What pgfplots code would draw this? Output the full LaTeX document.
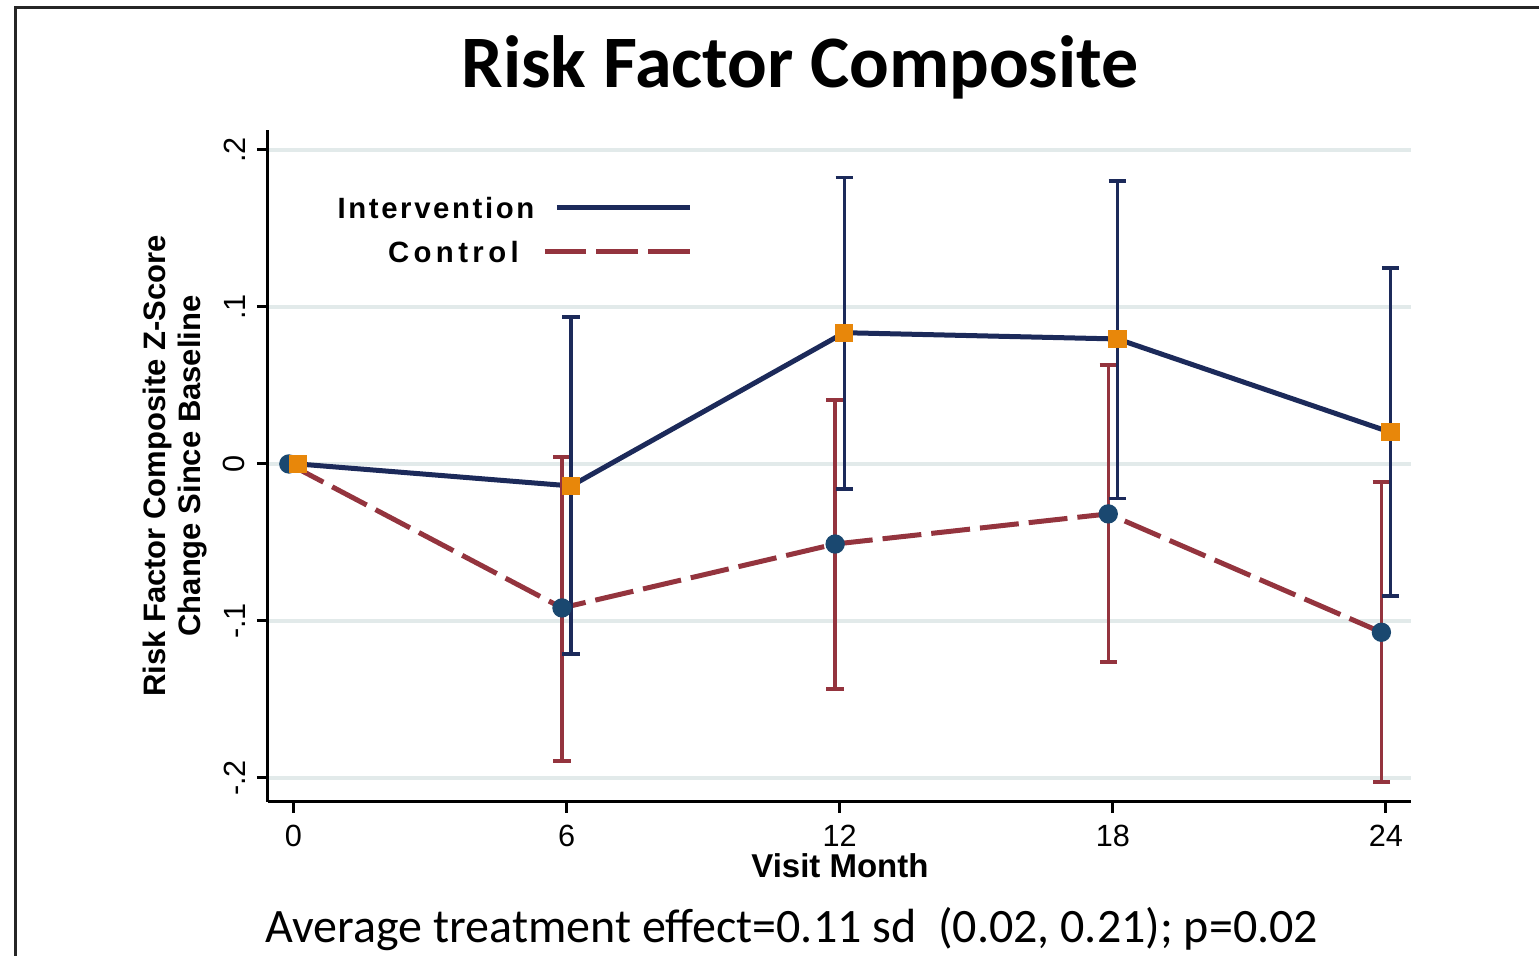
\documentclass[border=0pt]{standalone}
\usepackage{fontspec}
\setmainfont{Liberation Sans}
\newfontfamily\calibri{Carlito}
\newfontfamily\legfont[LetterSpace=9]{Liberation Sans}
\newfontfamily\legfontb[LetterSpace=15]{Liberation Sans}
\usepackage{pgfplots}
\pgfplotsset{compat=1.18}
\usepackage{pgfplotstable}

\definecolor{navyline}{RGB}{28,42,90}
\definecolor{redline}{RGB}{148,52,62}
\definecolor{orangem}{RGB}{232,135,10}
\definecolor{navydot}{RGB}{26,72,112}
\definecolor{gridc}{RGB}{226,234,234}

\pgfplotstableread{
x y ep em
0.1 0 0 0
6.1 -0.0140 0.1074 0.1070
12.1 0.0836 0.0988 0.0995
18.1 0.0796 0.1007 0.1017
24.1 0.0202 0.1046 0.1043
}\intv

\pgfplotstableread{
x y ep em
-0.1 0 0 0
5.9 -0.0917 0.0960 0.0973
11.9 -0.0510 0.0918 0.0923
17.9 -0.0318 0.0949 0.0945
23.9 -0.1072 0.0959 0.0955
}\ctrl

\begin{document}
\begin{tikzpicture}
\useasboundingbox (0,0) rectangle (461.7pt,286.8pt);
\draw[line width=0.9pt, black!85] (4.5pt,-5pt) -- (4.5pt,284.4pt) -- (470pt,284.4pt);
\node[anchor=base, inner sep=0pt, font=\calibri\bfseries\fontsize{22.2}{26}\selectfont] at (240pt,260.4pt) {Risk Factor Composite};
\node[anchor=base west, inner sep=0pt, font=\calibri\fontsize{14.4}{17}\selectfont] at (79.5pt,3.9pt) {Average treatment effect=0.11 sd\ \ (0.02, 0.21); p=0.02};

\begin{axis}[
  at={(80.4pt,46.2pt)}, anchor=south west,
  scale only axis, width=342.9pt, height=201.6pt,
  xmin=-0.558, xmax=24.55, ymin=-0.2153, ymax=0.2127,
  axis x line*=bottom, axis y line*=left,
  xtick pos=bottom, ytick pos=left,
  axis line style={line width=0.9pt, black},
  tick style={line width=0.9pt, black},
  major tick length=3.3pt, tick align=outside,
  xtick={0,6,12,18,24}, xticklabels={0,6,12,18,24},
  ytick={-0.2,-0.1,0,0.1,0.2}, yticklabels={-.2,-.1,0,.1,.2},
  /pgf/number format/assume math mode=true,
  ticklabel style={font=\fontsize{9.2}{11}\selectfont},
  yticklabel style={rotate=90, anchor=south},
  ymajorgrids, major grid style={gridc, line width=1.2pt},
  xlabel={Visit Month},
  ylabel={Risk Factor Composite Z-Score\\Change Since Baseline},
  every axis x label/.style={at={(axis description cs:0.5004,-0.1131)}, anchor=base, font=\bfseries\fontsize{9.9}{11}\selectfont},
  every axis y label/.style={at={(axis description cs:-0.0809,0.5)}, rotate=90, anchor=center, align=center, font=\bfseries\fontsize{9.3}{10.5}\selectfont},
  legend plot pos=right, reverse legend,
  legend style={draw=none, fill=none, inner sep=0pt, column sep=3.6pt, row sep=6.7pt,
    font=\bfseries\fontsize{8.8}{10}\selectfont,
    cells={anchor=east},
    nodes={inner sep=0pt, text height=6.5pt, text depth=0pt},
    at={(axis cs:8.78,0.1706)}, anchor=north east},
]
% control line
\addplot[redline, line width=1.5pt, dash pattern=on 11.7pt off 3pt, mark=none,
  legend image code/.code={\draw[redline, line width=1.4pt, dash pattern=on 12.5pt off 3pt] (-3.6pt,0pt) -- (40pt,0pt);}]
  table[x=x,y=y] {\ctrl};
\addlegendentry{\legfontb Control\hspace*{3.5pt}}
% markers
\addplot[forget plot, only marks, mark=*, color=navydot, mark size=2.7pt, mark options={solid}] table[x=x,y=y] {\ctrl};
\addplot[forget plot, only marks, mark=square*, color=orangem, mark size=2.55pt, mark options={solid}] table[x=x,y=y] {\intv};
% intervention line
\addplot[navyline, line width=1.5pt, mark=none,
  legend image code/.code={\draw[navyline, line width=1.4pt] (0pt,0pt) -- (40pt,0pt);}]
  table[x=x,y=y] {\intv};
\addlegendentry{\legfont Intervention\hspace*{-1.2pt}}
% error bars
\addplot[forget plot, draw=none, mark=none, skip coords between index={0}{1},
  error bars/.cd, y dir=both, y explicit,
  error bar style={draw=redline, line width=1pt, solid},
  error mark options={rotate=90, draw=redline, line width=1.1pt, mark size=2.6pt, solid}]
  table[x=x,y=y,y error plus=ep,y error minus=em] {\ctrl};
\addplot[forget plot, draw=none, mark=none, skip coords between index={0}{1},
  error bars/.cd, y dir=both, y explicit,
  error bar style={draw=navyline, line width=1pt, solid},
  error mark options={rotate=90, draw=navyline, line width=1.1pt, mark size=2.6pt, solid}]
  table[x=x,y=y,y error plus=ep,y error minus=em] {\intv};
\end{axis}
\end{tikzpicture}
\end{document}
